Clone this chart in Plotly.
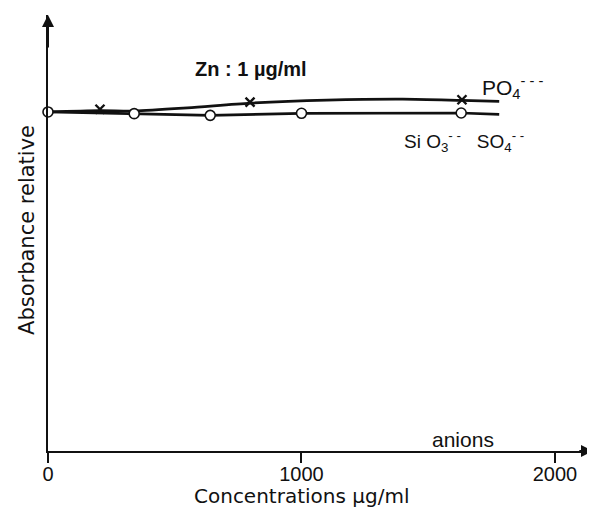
import plotly.graph_objects as go

# Data (relative absorbance vs concentration in µg/ml)
po4_curve_x = [0, 205, 340, 550, 800, 1100, 1400, 1633, 1780]
po4_curve_y = [1.000, 1.004, 1.003, 1.012, 1.026, 1.035, 1.038, 1.034, 1.031]
po4_mark_x = [205, 797, 1633]
po4_mark_y = [1.008, 1.029, 1.036]

sio_x = [0, 340, 640, 1000, 1630, 1780]
sio_y = [1.000, 0.995, 0.990, 0.996, 0.997, 0.993]
sio_mark_x = [0, 340, 640, 1000, 1630]
sio_mark_y = [1.000, 0.995, 0.990, 0.996, 0.997]

x_ticks = [0, 1000, 2000]
x_tick_text = ["0", "1000", "2000"]

X_MAX = 2150
Y_MAX = 1.286
SANS = "Liberation Sans"
WIDE = "DejaVu Sans"
INK = "#111111"

fig = go.Figure()

fig.add_trace(go.Scatter(x=po4_curve_x, y=po4_curve_y, mode="lines",
                         line=dict(color=INK, width=2.7, shape="spline", smoothing=0.8),
                         hoverinfo="skip", showlegend=False))
fig.add_trace(go.Scatter(x=po4_mark_x, y=po4_mark_y, mode="markers",
                         marker=dict(symbol="x-thin", size=9, line=dict(color=INK, width=2.4)),
                         showlegend=False))
fig.add_trace(go.Scatter(x=sio_x, y=sio_y, mode="lines",
                         line=dict(color=INK, width=2.7),
                         hoverinfo="skip", showlegend=False))
fig.add_trace(go.Scatter(x=sio_mark_x, y=sio_mark_y, mode="markers",
                         marker=dict(symbol="circle", size=10, color="white",
                                     line=dict(color=INK, width=1.6)),
                         cliponaxis=False, showlegend=False))

annotations = [
    dict(x=X_MAX, y=0, ax=X_MAX - 60, ay=0, xref="x", yref="y", axref="x", ayref="y",
         showarrow=True, arrowhead=2, arrowsize=1.2, arrowwidth=2, arrowcolor=INK, text=""),
    dict(x=0, y=Y_MAX, ax=0, ay=Y_MAX - 0.1, xref="x", yref="y", axref="x", ayref="y",
         showarrow=True, arrowhead=2, arrowsize=1.2, arrowwidth=2, arrowcolor=INK, text=""),
    dict(x=800, y=1.127, xref="x", yref="y", showarrow=False,
         text="<b>Zn : 1 µg/ml</b>", font=dict(family=SANS, size=20, color=INK)),
    dict(x=1704, y=1.071, xref="x", yref="y", showarrow=False, xanchor="left",
         text="PO<sub>4</sub><sup>- - -</sup>", font=dict(family=SANS, size=21, color=INK)),
    dict(x=1396, y=0.914, xref="x", yref="y", showarrow=False, xanchor="left",
         text="Si O<sub>3</sub><sup>- -</sup>   SO<sub>4</sub><sup>- -</sup>",
         font=dict(family=SANS, size=19, color=INK)),
    dict(x=1507, y=0.035, xref="x", yref="y", showarrow=False, xanchor="left",
         text="anions", font=dict(family=SANS, size=21, color=INK)),
    dict(x=1000, y=0, xref="x", yref="y", showarrow=False, yanchor="middle", yshift=-45,
         text="Concentrations µg/ml", font=dict(family=WIDE, size=20, color=INK)),
    dict(x=0, y=0.652, xref="x", yref="y", showarrow=False, xshift=-21, textangle=-90,
         text="Absorbance relative", font=dict(family=WIDE, size=21, color=INK)),
]

fig.update_layout(
    width=595, height=516,
    margin=dict(l=40, r=10, t=7, b=73),
    paper_bgcolor="white", plot_bgcolor="white",
    font=dict(family=SANS, size=20, color=INK),
    annotations=annotations,
    xaxis=dict(range=[0, X_MAX], showgrid=False, zeroline=False,
               showline=True, linecolor=INK, linewidth=2,
               tickmode="array", tickvals=x_ticks, ticktext=x_tick_text,
               ticks="outside", ticklen=10, tickwidth=1.8, tickcolor=INK,
               ticklabelstandoff=-6,
               tickfont=dict(family=SANS, size=20, color=INK)),
    yaxis=dict(range=[0, Y_MAX], showgrid=False, zeroline=False,
               showline=True, linecolor=INK, linewidth=2,
               showticklabels=False, ticks=""),
)

fig.write_html("out.html")
